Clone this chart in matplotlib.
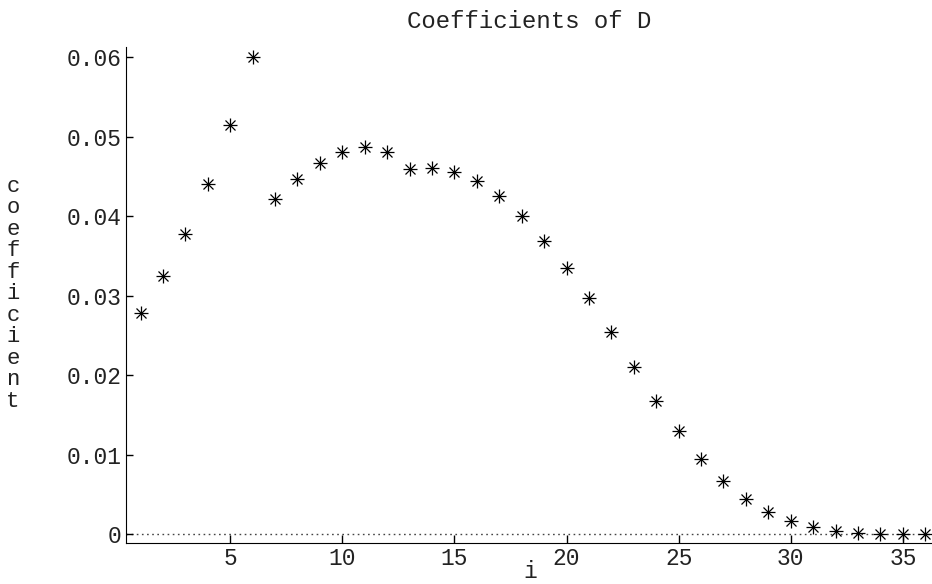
import matplotlib.pyplot as plt

# coefficient index and values
idx = list(range(1, 37))
coef = [0.0278, 0.0325, 0.0378, 0.0441, 0.0515, 0.0601, 0.0422, 0.0447,
        0.0467, 0.0481, 0.0487, 0.0481, 0.0459, 0.0461, 0.0456, 0.0445,
        0.0426, 0.0401, 0.0369, 0.0335, 0.0297, 0.0254, 0.0210, 0.0168,
        0.0130, 0.0095, 0.0067, 0.0044, 0.0028, 0.0017, 0.0009, 0.0004,
        0.0002, 0.00005, 0.0, 0.0]
xticks = [5, 10, 15, 20, 25, 30, 35]
yticks = [0, 0.01, 0.02, 0.03, 0.04, 0.05, 0.06]
ylabels = ["0", "0.01", "0.02", "0.03", "0.04", "0.05", "0.06"]

plt.rcParams["font.family"] = ["Liberation Mono", "DejaVu Sans"]

fig = plt.figure(figsize=(9.32, 5.84), dpi=100)
ax = fig.add_axes([0.1349, 0.0702, 0.8651, 0.8493])

ax.axhline(0, color="#444444", linestyle=(0, (1.2, 2.5)), linewidth=1.0, zorder=1)
ax.plot(idx, coef, linestyle="none", marker="+", markersize=10,
        markeredgewidth=0.9, color="black", zorder=3)
ax.plot(idx, coef, linestyle="none", marker="x", markersize=7,
        markeredgewidth=0.9, color="black", zorder=3)

ax.set_xlim(0.34, 36.3)
ax.set_ylim(-0.0011, 0.0613)
ax.set_xticks(xticks)
ax.set_yticks(yticks)
ax.set_yticklabels(ylabels)
ax.tick_params(direction="in", length=5, width=1, labelsize=16.5, pad=3,
               labelcolor="#222222")
ax.tick_params(axis="x", length=6)

ax.spines["top"].set_visible(False)
ax.spines["right"].set_visible(False)

ax.set_title("Coefficients of D", fontsize=17.3, pad=14, color="#222222")
fig.text(0.569, 0.002, "i", ha="center", va="bottom", fontsize=16.5,
         color="#222222")
fig.text(0.014, 0.497, "\n".join("coefficient"), ha="center", va="center",
         fontsize=16, linespacing=1.03, color="#222222")

fig.savefig("out.png", dpi=100)
plt.close("all")
